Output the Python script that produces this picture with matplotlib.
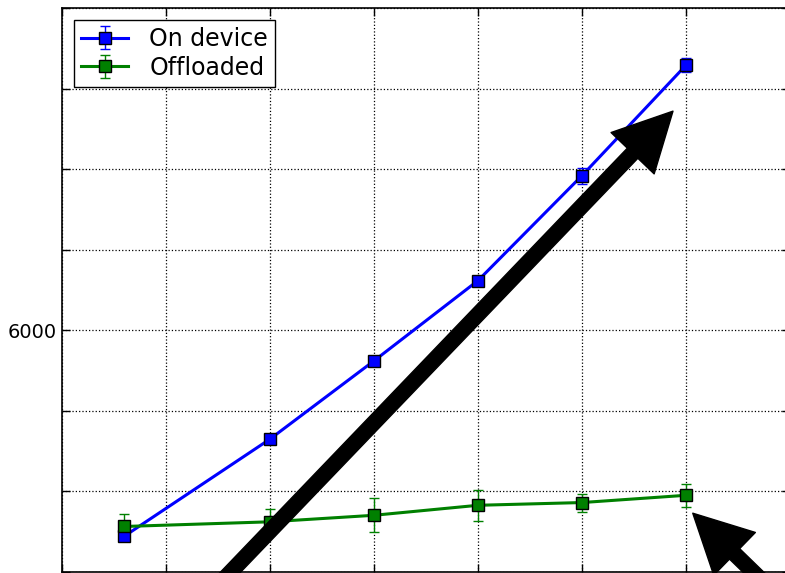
import matplotlib
matplotlib.use("Agg")
import matplotlib.pyplot as plt

# measurements per configuration
x = [12, 40, 60, 80, 100, 120]
on_device = [3445, 4650, 5621, 6617, 7920, 9290]
on_device_err = [50, 40, 40, 40, 100, 90]
offloaded = [3565, 3623, 3704, 3828, 3862, 3952]
offloaded_err = [150, 160, 210, 192, 112, 143]

yticks = [3000, 4000, 5000, 6000, 7000, 8000, 9000, 10000]
ytick_labels = ["", "", "", "6000", "", "", "", ""]

# arrows: (tail, head) in data units
arrow_up = ((25.0, 2500), (117.5, 8720))
arrow_down = ((160.0, 1300), (121.3, 3730))

fig = plt.figure(figsize=(7.85, 5.73), dpi=100)
ax = fig.add_axes([62 / 785, 1 / 573, 728 / 785, 564 / 573])

ax.errorbar(x, on_device, yerr=on_device_err, color="b", marker="s",
            markersize=9, markeredgecolor="k", markeredgewidth=1,
            linewidth=2.2, elinewidth=1, capsize=3.6, label="On device")
ax.errorbar(x, offloaded, yerr=offloaded_err, color="g", marker="s",
            markersize=9, markeredgecolor="k", markeredgewidth=1,
            linewidth=2.2, elinewidth=1, capsize=3.6, label="Offloaded")

for tail, head in (arrow_up, arrow_down):
    ax.annotate("", xy=head, xytext=tail, annotation_clip=False,
                arrowprops=dict(facecolor="black", edgecolor="black",
                                width=10.5, headwidth=43, headlength=42,
                                shrink=0), zorder=5)

ax.set_xlim(0, 140)
ax.set_ylim(3000, 10000)
ax.set_xticks(range(0, 141, 20))
ax.set_xticklabels([])
ax.set_yticks(yticks)
ax.set_yticklabels(ytick_labels, fontsize=14)
ax.tick_params(direction="in", length=6, width=1, top=True, right=True)
ax.grid(True, color="k", linestyle=":", linewidth=0.9)
for s in ax.spines.values():
    s.set_linewidth(1.2)

leg = ax.legend(loc="upper left", fontsize=17, fancybox=False,
                framealpha=1, edgecolor="k", borderaxespad=0.5,
                handlelength=2.0, borderpad=0.3, labelspacing=0.2,
                handletextpad=0.9)
leg.get_frame().set_linewidth(1)

fig.savefig("out.png", dpi=100)
